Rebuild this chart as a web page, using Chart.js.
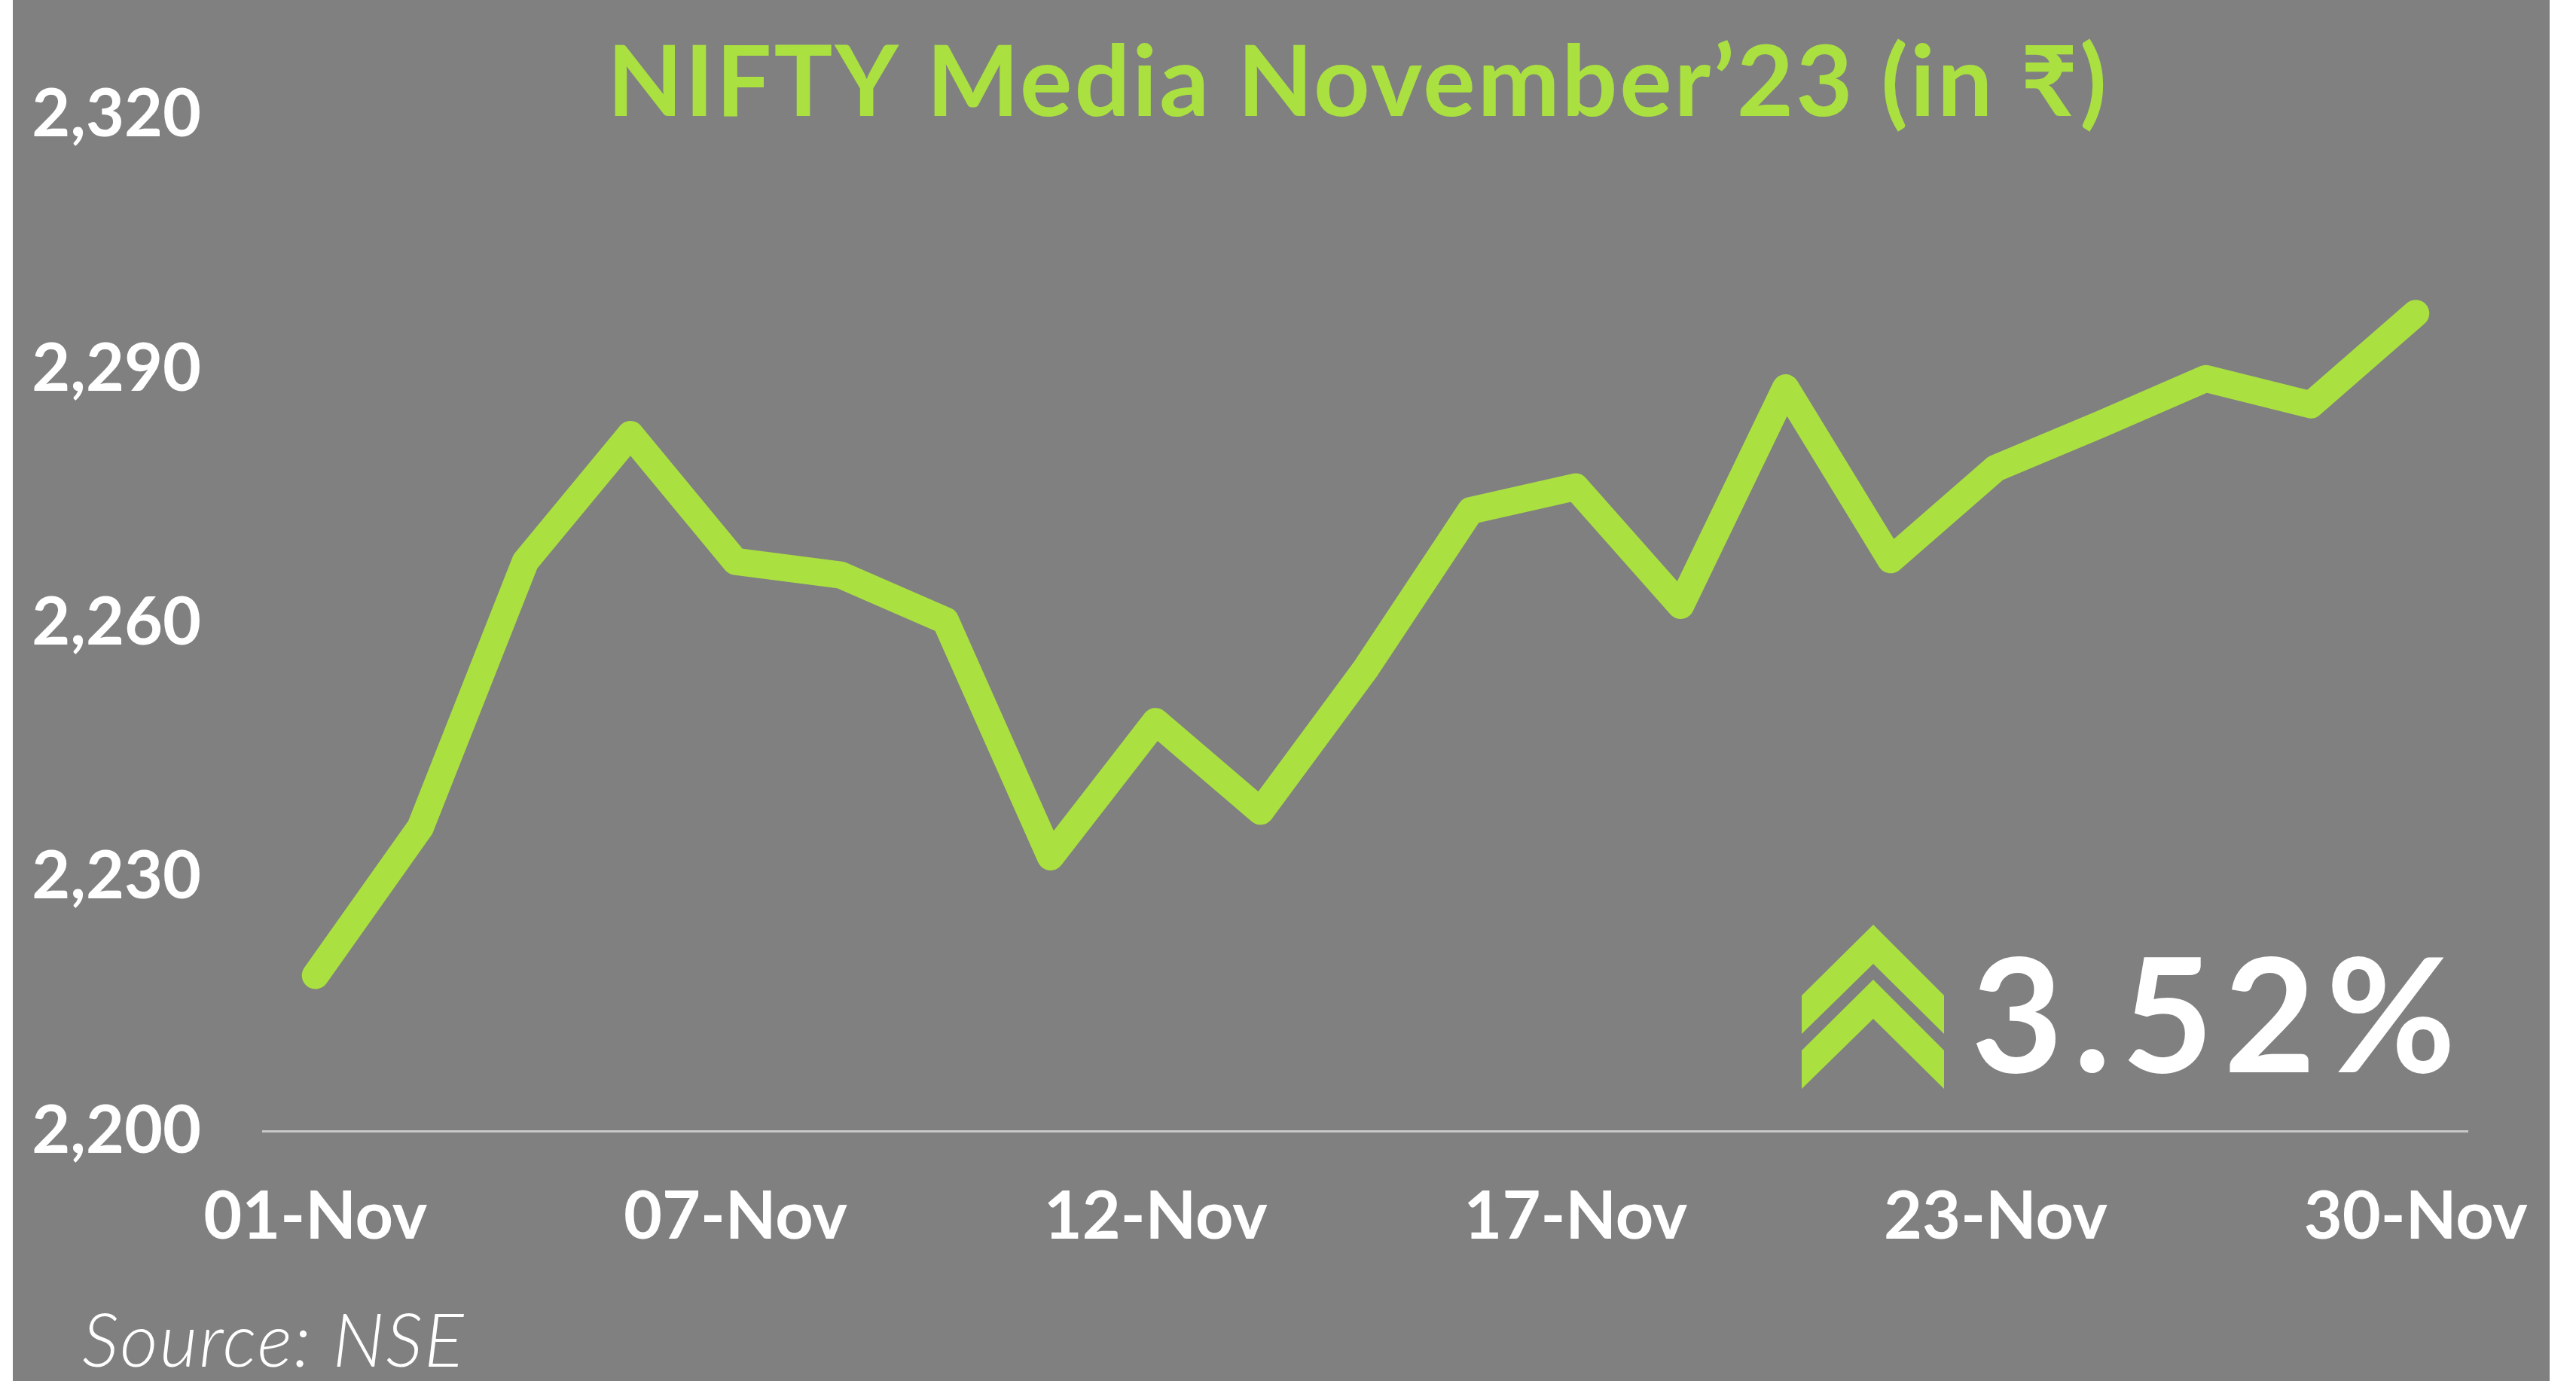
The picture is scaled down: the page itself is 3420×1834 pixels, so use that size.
<!DOCTYPE html>
<html>
<head>
<meta charset="utf-8">
<script src="https://cdn.jsdelivr.net/npm/chart.js@4.4.1/dist/chart.umd.min.js"></script>
<style>
  html, body { margin: 0; padding: 0; background: #ffffff; }
  canvas { display: block; }
</style>
</head>
<body>
<canvas id="myChart" width="3420" height="1834"></canvas>
<script>
// NIFTY Media, daily close, November 2023
const dates = ["01-Nov", "02-Nov", "03-Nov", "06-Nov", "07-Nov", "08-Nov", "09-Nov",
    "10-Nov", "12-Nov", "13-Nov", "15-Nov", "16-Nov", "17-Nov", "20-Nov",
    "21-Nov", "22-Nov", "23-Nov", "24-Nov", "28-Nov", "29-Nov", "30-Nov"];
const closes = [2218.4, 2235.9, 2267.3, 2282.3, 2267.3, 2265.7, 2260.3,
    2232.4, 2248.4, 2237.8, 2254.6, 2273.3, 2276.1, 2262.1,
    2287.8, 2267.5, 2278.3, 2283.5, 2288.9, 2285.8, 2296.6];
const shownDates = ["01-Nov", "07-Nov", "12-Nov", "17-Nov", "23-Nov", "30-Nov"];
const yTicks = [2200, 2230, 2260, 2290, 2320];

const titleText = "NIFTY Media November\u201923 (in \u20B9)";
const changeText = "3.52%";
const sourceText = "Source: NSE";

const GREEN = "#aae040";
const GREY = "#808080";
const FONT = "Lato, 'Open Sans', 'DejaVu Sans', sans-serif";

const decor = {
    id: "decor",
    beforeDraw(chart) {
        const ctx = chart.ctx;
        ctx.save();
        ctx.fillStyle = "#ffffff";
        ctx.fillRect(0, 0, chart.width, chart.height);
        ctx.fillStyle = GREY;
        ctx.fillRect(17, 0, 3368, chart.height);
        ctx.restore();
    },
    afterDraw(chart) {
        const ctx = chart.ctx;
        const area = chart.chartArea;
        ctx.save();

        // title
        ctx.fillStyle = GREEN;
        ctx.font = "bold 130px " + FONT;
        ctx.letterSpacing = "3px";
        ctx.textAlign = "center";
        ctx.textBaseline = "alphabetic";
        ctx.fillText(titleText, (area.left + area.right) / 2 - 10, 154);

        // double chevron
        ctx.fillStyle = GREEN;
        [0, 73].forEach((dy) => {
            ctx.beginPath();
            ctx.moveTo(2392, 1322 + dy);
            ctx.lineTo(2487, 1228 + dy);
            ctx.lineTo(2581, 1322 + dy);
            ctx.lineTo(2581, 1373 + dy);
            ctx.lineTo(2487, 1280 + dy);
            ctx.lineTo(2392, 1373 + dy);
            ctx.closePath();
            ctx.fill();
        });

        // change in the month
        ctx.fillStyle = "#ffffff";
        ctx.font = "bold 210px " + FONT;
        ctx.letterSpacing = "14px";
        ctx.textAlign = "left";
        ctx.fillText(changeText, 2617, 1424);

        // source
        ctx.font = "italic 300 98px " + FONT;
        ctx.letterSpacing = "2px";
        ctx.fillText(sourceText, 109, 1815);

        ctx.restore();
    },
};

function buildChart() {
    const ctx = document.getElementById("myChart").getContext("2d");

    const config = {
        type: "line",
        data: {
            labels: dates,
            datasets: [
                {
                    label: "NIFTY Media",
                    data: closes,
                    borderColor: GREEN,
                    borderWidth: 36,
                    borderCapStyle: "round",
                    borderJoinStyle: "round",
                    pointRadius: 0,
                    tension: 0,
                    fill: false,
                    clip: false,
                },
            ],
        },
        options: {
            responsive: false,
            animation: false,
            devicePixelRatio: 1,
            layout: {
                padding: { left: 20, right: 137, top: 153, bottom: 104 },
            },
            plugins: {
                legend: { display: false },
                tooltip: { enabled: false },
                title: { display: false },
            },
            scales: {
                x: {
                    offset: true,
                    grid: { display: false, drawTicks: false },
                    border: { display: true, color: "#c8c8c8", width: 3 },
                    ticks: {
                        autoSkip: false,
                        maxRotation: 0,
                        padding: 61,
                        color: "#ffffff",
                        font: { family: FONT, size: 88, weight: "bold" },
                        callback: function (value, index) {
                            const label = dates[index];
                            return shownDates.includes(label) ? label : "";
                        },
                    },
                },
                y: {
                    min: yTicks[0],
                    max: yTicks[yTicks.length - 1],
                    grid: { display: false, drawTicks: false },
                    border: { display: false },
                    afterFit: function (scale) {
                        scale.width = 329;
                    },
                    ticks: {
                        stepSize: yTicks[1] - yTicks[0],
                        padding: 82,
                        color: "#ffffff",
                        font: { family: FONT, size: 88, weight: "bold" },
                        callback: function (value) {
                            return value.toLocaleString("en-US");
                        },
                    },
                },
            },
        },
        plugins: [decor],
    };

    return new Chart(ctx, config);
}

Promise.all([
    document.fonts.load("bold 88px Lato"),
    document.fonts.load("italic 300 95px Lato"),
]).then(buildChart, buildChart);
</script>
</body>
</html>
